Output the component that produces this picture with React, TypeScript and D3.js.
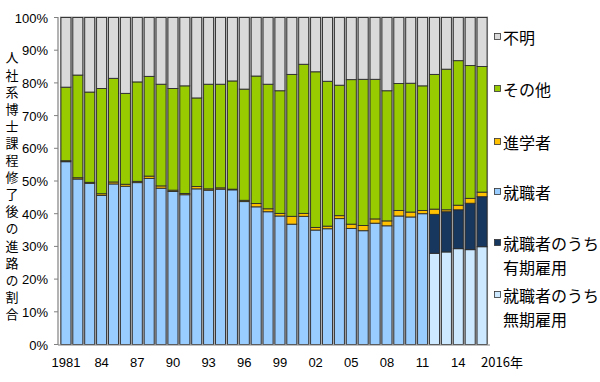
import React from "react";
import * as d3 from "d3";

const years = d3.range(1981, 2017);
// 就職者のうち無期雇用 (2012-)
const permanent = [0,0,0,0,0,0,0,0,0,0, 0,0,0,0,0,0,0,0,0,0, 0,0,0,0,0,0,0,0,0,0, 0, 27.9, 28.3, 29.3, 29.0, 29.9];
// 就職者のうち有期雇用 (2012-)
const fixedTerm = [0,0,0,0,0,0,0,0,0,0, 0,0,0,0,0,0,0,0,0,0, 0,0,0,0,0,0,0,0,0,0, 0, 11.9, 12.3, 11.9, 14.2, 15.3];
// 就職者
const employed = [55.9, 50.6, 49.3, 45.6, 49.1, 48.4, 49.5, 50.8, 47.8, 46.8, 45.8, 47.6, 47.2, 47.5, 47.3, 43.7, 42.1, 40.6, 39.3, 36.8, 39.2, 35.0, 35.4, 38.5, 35.5, 34.8, 37.1, 36.3, 39.3, 39.0, 40.0, 0, 0, 0, 0, 0];
// 進学者
const advance = [0.3, 0.4, 0.3, 0.5, 0.6, 0.6, 0.4, 0.7, 0.7, 0.4, 0.4, 0.7, 0.4, 0.4, 0.2, 0.4, 1.0, 0.9, 0.8, 2.4, 0.9, 0.8, 0.8, 0.9, 1.3, 1.6, 1.3, 1.5, 1.7, 1.5, 1.0, 1.6, 0.6, 1.4, 1.5, 1.4];
// その他
const other = [22.5, 31.4, 27.6, 32.2, 31.7, 27.8, 30.4, 30.5, 31.1, 31.1, 32.9, 27.1, 32.0, 31.7, 33.1, 34.0, 39.0, 38.1, 37.5, 43.4, 45.6, 47.6, 44.3, 39.9, 44.2, 44.7, 42.7, 39.8, 38.8, 39.4, 38.1, 41.2, 43.0, 44.2, 40.6, 38.4];
// 不明
const unknown = [21.3, 17.6, 22.8, 21.7, 18.6, 23.2, 19.7, 18.0, 20.4, 21.7, 20.9, 24.6, 20.4, 20.4, 19.4, 21.9, 17.9, 20.4, 22.4, 17.4, 14.3, 16.6, 19.5, 20.7, 19.0, 18.9, 18.9, 22.4, 20.2, 20.1, 20.9, 17.4, 15.8, 13.2, 14.7, 15.0];

const seriesKeys = ["permanent", "fixedTerm", "employed", "advance", "other", "unknown"];
const seriesColors: Record<string, string> = {
  permanent: "#cce9ff",
  fixedTerm: "#17375e",
  employed: "#99ccff",
  advance: "#ffc000",
  other: "#99cc00",
  unknown: "#dadada",
};
const yTicks = [0, 10, 20, 30, 40, 50, 60, 70, 80, 90, 100];
const xLabelYears = [1981, 1984, 1987, 1990, 1993, 1996, 1999, 2002, 2005, 2008, 2011, 2014];
const xLabelText = ["1981", "84", "87", "90", "93", "96", "99", "02", "05", "08", "11", "14"];
const lastLabel = "2016年";
const yTitle = "人社系博士課程修了後の進路の割合";
const legendItems = [
  { key: "unknown", lines: ["不明"] },
  { key: "other", lines: ["その他"] },
  { key: "advance", lines: ["進学者"] },
  { key: "employed", lines: ["就職者"] },
  { key: "fixedTerm", lines: ["就職者のうち", "有期雇用"] },
  { key: "permanent", lines: ["就職者のうち", "無期雇用"] },
];
const legendY = [38, 90, 143, 193, 244, 296];

const table = years.map((y, i) => ({
  year: y,
  permanent: permanent[i],
  fixedTerm: fixedTerm[i],
  employed: employed[i],
  advance: advance[i],
  other: other[i],
  unknown: unknown[i],
}));

export default function App() {
  const W = 600, H = 382;
  const x = d3.scaleBand<number>().domain(years).range([60, 488]).paddingInner(0.16).paddingOuter(0.08);
  const y = d3.scaleLinear().domain([0, 100]).range([344.5, 17.5]);
  const stack = d3.stack<any>().keys(seriesKeys);
  const layers = stack(table);
  const bw = x.bandwidth();
  const numFont = "'Liberation Sans', Arial, sans-serif";
  const jpFont = "'Noto Sans CJK JP', sans-serif";

  return (
    <svg width={W} height={H} style={{ position: "absolute", left: 0, top: 0, background: "#fff" }}>
      {/* bar halos */}
      {years.map((yr) => (
        <rect key={"h" + yr} x={(x(yr) as number) - 1} y={y(100) - 1} width={bw + 2} height={y(0) - y(100) + 1} fill="#a6a6a6" />
      ))}
      {layers.map((layer) => (
        <g key={layer.key}>
          {layer.map((d, i) => {
            const h = y(d[0]) - y(d[1]);
            if (h <= 0) return null;
            return (
              <rect
                key={i}
                x={x(years[i]) as number}
                y={y(d[1])}
                width={bw}
                height={h}
                fill={seriesColors[layer.key]}
                stroke="#2b2b2b"
                strokeWidth={0.9}
              />
            );
          })}
        </g>
      ))}
      {/* axes */}
      <line x1={58} x2={58} y1={17} y2={345} stroke="#808080" strokeWidth={1.2} />
      <line x1={58} x2={490} y1={345} y2={345} stroke="#808080" strokeWidth={1.2} />
      {yTicks.map((t) => (
        <g key={t}>
          <line x1={54} x2={58} y1={y(t)} y2={y(t)} stroke="#808080" />
          <text x={48} y={y(t) + 5} textAnchor="end" fontFamily={numFont} fontSize={13} fill="#000">
            {t + "%"}
          </text>
        </g>
      ))}
      {xLabelYears.map((yr, i) => (
        <text key={yr} x={(x(yr) as number) + bw / 2} y={367} textAnchor="middle" fontFamily={numFont} fontSize={13} fill="#000">
          {xLabelText[i]}
        </text>
      ))}
      <text x={(x(2016) as number) + bw / 2 - 1} y={367} textAnchor="start" fontFamily={jpFont} fontSize={13} fill="#000">
        {lastLabel}
      </text>
      {/* y title (vertical writing) */}
      <text
        x={12}
        y={51}
        fontFamily={jpFont}
        fontSize={13}
        fill="#000"
        style={{ writingMode: "vertical-rl", letterSpacing: "4.1px" } as any}
      >
        {yTitle}
      </text>
      {/* legend */}
      {legendItems.map((it, i) => (
        <g key={it.key}>
          <rect x={494.5} y={legendY[i] - 4.5} width={6} height={6} fill={seriesColors[it.key]} stroke="#333" strokeWidth={0.8} />
          <text fontFamily={jpFont} fontSize={16} fill="#000">
            {it.lines.map((l, j) => (
              <tspan key={j} x={503} y={legendY[i] + 6 + j * 24}>
                {l}
              </tspan>
            ))}
          </text>
        </g>
      ))}
    </svg>
  );
}
